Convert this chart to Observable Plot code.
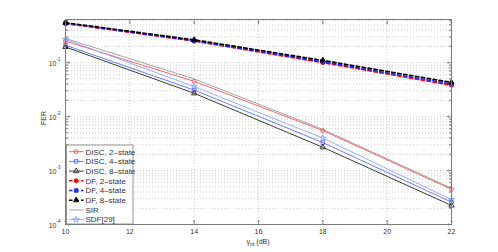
<!DOCTYPE html>
<html><head><meta charset="utf-8">
<script src="https://cdn.jsdelivr.net/npm/d3@7"></script>
<script src="https://cdn.jsdelivr.net/npm/@observablehq/plot@0.6"></script>
<style>body{margin:0;background:#fff} #chart svg{font-family:"Liberation Sans",Arial,sans-serif}</style>
</head><body><div id="chart"></div>
<script>
// ---- data ----
const snr = [10, 14, 18, 22];
const discTwo   = [0.25, 0.045, 0.0055, 0.00045];
const discFour  = [0.21, 0.031, 0.0033, 0.00026];
const discEight = [0.195, 0.027, 0.0027, 0.000225];
const dfTwo     = [0.53, 0.25, 0.100, 0.038];
const dfFour    = [0.54, 0.255, 0.104, 0.040];
const dfEight   = [0.55, 0.265, 0.110, 0.043];
const sir       = [0.28, 0.050, 0.0058, 0.00047];
const sdf       = [0.27, 0.036, 0.0040, 0.00029];
const seriesNames = ["DISC, 2\u2013state","DISC, 4\u2013state","DISC, 8\u2013state","DF, 2\u2013state","DF, 4\u2013state","DF, 8\u2013state","SIR","SDF[29]"];
const xTicks = [10, 12, 14, 16, 18, 20, 22];
const yMajor = [1e-4, 1e-3, 1e-2, 1e-1];
const yExponents = ["-4", "-3", "-2", "-1"];
const xLabelMain = "\u03b3", xLabelSub = "rd", xLabelUnit = " (dB)";
const yLabel = "FER";

// ---- styles ----
const styles = [
  {values: discTwo,   stroke: "#f0565a", symbol: "circle",   fill: "none", dash: null, width: 0.9},
  {values: discFour,  stroke: "#5a6cf5", symbol: "square",   fill: "none", dash: null, width: 0.9},
  {values: discEight, stroke: "#222",    symbol: "triangle", fill: "none", dash: null, width: 0.9},
  {values: dfTwo,     stroke: "#ff0000", symbol: "circle",   fill: "#ff0000", dash: "3.5,2.5", width: 1.6},
  {values: dfFour,    stroke: "#1f2cff", symbol: "square",   fill: "#1f2cff", dash: "3.5,2.5", width: 1.6},
  {values: dfEight,   stroke: "#000",    symbol: "triangle", fill: "#000", dash: "3.5,2.5", width: 1.6},
  {values: sir,       stroke: "#9a9a9a", symbol: null,       fill: "none", dash: null, width: 0.9},
  {values: sdf,       stroke: "#8fa2ff", symbol: "star",     fill: "none", dash: null, width: 0.9}
];
const series = styles.map((s, k) => ({...s, name: seriesNames[k],
  rows: snr.map((x, i) => ({x, y: s.values[i]}))}));

const yMinor = [];
for (const m of yMajor) for (let j = 2; j <= 9; j++) yMinor.push(m * j);
const yDomain = [1e-4, 0.63];
const yMinorIn = yMinor.filter(v => v <= yDomain[1]);

const frameCol = "#7a7a7a", gridCol = "#b8b8b8", textCol = "#333";
const markR = 2;
const lineMarks = [];
for (const s of [series[6], series[0], series[7], series[1], series[2], series[3], series[4], series[5]]) {
  lineMarks.push(Plot.line(s.rows, {x: "x", y: "y", stroke: s.stroke, strokeWidth: s.width, strokeDasharray: s.dash}));
  if (s.symbol) lineMarks.push(Plot.dot(s.rows, {x: "x", y: "y", symbol: s.symbol, r: markR,
    stroke: s.stroke, fill: s.fill, strokeWidth: 0.9}));
}

const chart = Plot.plot({
  width: 498, height: 252,
  marginLeft: 65, marginRight: 47, marginTop: 19, marginBottom: 28,
  x: {domain: [10, 22], axis: null},
  y: {type: "log", domain: yDomain, axis: null},
  style: {background: "white", color: textCol},
  marks: [
    Plot.ruleY(yMinorIn, {stroke: gridCol, strokeDasharray: "1,2", strokeWidth: 0.7}),
    Plot.ruleY(yMajor, {stroke: gridCol, strokeDasharray: "1,2", strokeWidth: 0.7}),
    Plot.ruleX(xTicks.slice(1, -1), {stroke: gridCol, strokeDasharray: "1,2", strokeWidth: 0.7}),
    // inward ticks
    Plot.vector(yMajor, {y: d => d, frameAnchor: "left", rotate: 90, length: 4, anchor: "start", stroke: frameCol, strokeWidth: 0.8}),
    Plot.vector(yMajor, {y: d => d, frameAnchor: "right", rotate: -90, length: 4, anchor: "start", stroke: frameCol, strokeWidth: 0.8}),
    Plot.vector(yMinorIn, {y: d => d, frameAnchor: "left", rotate: 90, length: 2, anchor: "start", stroke: frameCol, strokeWidth: 0.8}),
    Plot.vector(yMinorIn, {y: d => d, frameAnchor: "right", rotate: -90, length: 2, anchor: "start", stroke: frameCol, strokeWidth: 0.8}),
    Plot.vector(xTicks, {x: d => d, frameAnchor: "bottom", rotate: 0, length: 4, anchor: "start", stroke: frameCol, strokeWidth: 0.8}),
    Plot.vector(xTicks, {x: d => d, frameAnchor: "top", rotate: 180, length: 4, anchor: "start", stroke: frameCol, strokeWidth: 0.8}),
    ...lineMarks,
    Plot.frame({stroke: frameCol, strokeWidth: 1}),
    // tick labels
    Plot.text(yMajor, {y: d => d, frameAnchor: "left", text: () => "10", dx: -9, dy: 1, textAnchor: "end", fontSize: 7, fill: textCol}),
    Plot.text(yMajor, {y: d => d, frameAnchor: "left", text: (d, i) => yExponents[i], dx: -9, dy: -3, textAnchor: "start", fontSize: 4.5, fill: textCol}),
    Plot.text(xTicks, {x: d => d, frameAnchor: "bottom", text: d => String(d), dy: 9, fontSize: 7, fill: textCol}),
    Plot.text([yLabel], {frameAnchor: "left", text: d => d, dx: -22, dy: 3, rotate: -90, fontSize: 7, fill: textCol})
  ]
});
document.getElementById("chart").appendChild(chart);

// x label with subscript
const svg = d3.select(chart);
const xl = svg.append("text").attr("x", 258).attr("y", 244).attr("text-anchor", "middle")
  .attr("font-size", 7).attr("fill", textCol);
xl.append("tspan").text(xLabelMain);
xl.append("tspan").attr("font-size", 5).attr("dy", 2).text(xLabelSub);
xl.append("tspan").attr("dy", -2).text(xLabelUnit);

// legend
const lg = svg.append("g").attr("text-anchor", "start");
lg.append("rect").attr("x", 66.5).attr("y", 145).attr("width", 66.5).attr("height", 79)
  .attr("fill", "white").attr("stroke", frameCol).attr("stroke-width", 0.8);
const symMap = {circle: d3.symbolCircle, square: d3.symbolSquare, triangle: d3.symbolTriangle, star: d3.symbolStar};
series.forEach((s, i) => {
  const cy = 151.7 + i * 9.7;
  const ln = lg.append("line").attr("x1", 69).attr("x2", 83.5).attr("y1", cy).attr("y2", cy)
    .attr("stroke", s.stroke).attr("stroke-width", s.width);
  if (s.dash) ln.attr("stroke-dasharray", s.dash);
  if (s.symbol) lg.append("path").attr("transform", `translate(76.2,${cy})`)
    .attr("d", d3.symbol(symMap[s.symbol], markR * markR * Math.PI)())
    .attr("stroke", s.stroke).attr("fill", s.fill).attr("stroke-width", 0.9);
  lg.append("text").attr("x", 85.5).attr("y", cy + 2.8).attr("text-anchor", "start")
    .attr("font-size", 8).attr("fill", textCol).text(s.name);
});
</script></body></html>
